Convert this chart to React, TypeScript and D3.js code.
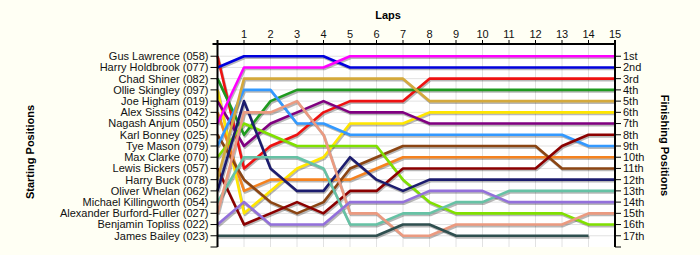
import React from "react";
import * as d3 from "d3";

const drivers = [
  "Gus Lawrence (058)",
  "Harry Holdbrook (077)",
  "Chad Shiner (082)",
  "Ollie Skingley (097)",
  "Joe Higham (019)",
  "Alex Sissins (042)",
  "Nagash Anjum (050)",
  "Karl Bonney (025)",
  "Tye Mason (079)",
  "Max Clarke (070)",
  "Lewis Bickers (057)",
  "Harry Buck (078)",
  "Oliver Whelan (062)",
  "Michael Killingworth (054)",
  "Alexander Burford-Fuller (027)",
  "Benjamin Topliss (022)",
  "James Bailey (023)",
];

const colors = [
  "#ee1111", "#0000dd", "#1f9a1f", "#ffe600", "#800080", "#f5821f", "#ff00ff", "#8b4513",
  "#3399ff", "#80e000", "#8b0000", "#d4a93c", "#1c1c6e", "#66c2a5", "#eb9a80", "#9370db", "#2f4f4f",
];

// position of each driver at laps 0..15
const gusLawrence = [1, 11, 9, 8, 6, 5, 5, 5, 3, 3, 3, 3, 3, 3, 3, 3];
const harryHoldbrook = [2, 1, 1, 1, 1, 2, 2, 2, 2, 2, 2, 2, 2, 2, 2, 2];
const chadShiner = [3, 8, 5, 4, 4, 4, 4, 4, 4, 4, 4, 4, 4, 4, 4, 4];
const ollieSkingley = [4, 15, 13, 11, 10, 7, 7, 7, 6, 6, 6, 6, 6, 6, 6, 6];
const joeHigham = [5, 9, 7, 6, 5, 6, 6, 6, 7, 7, 7, 7, 7, 7, 7, 7];
const alexSissins = [6, 13, 12, 12, 12, 12, 11, 10, 10, 10, 10, 10, 10, 10, 10, 10];
const nagashAnjum = [7, 2, 2, 2, 2, 1, 1, 1, 1, 1, 1, 1, 1, 1, 1, 1];
const karlBonney = [8, 12, 14, 15, 14, 11, 10, 9, 9, 9, 9, 9, 9, 11, 11, 11];
const tyeMason = [9, 4, 4, 7, 7, 8, 8, 8, 8, 8, 8, 8, 8, 8, 9, 9];
const maxClarke = [10, 7, 8, 9, 9, 9, 9, 12, 14, 15, 15, 15, 15, 15, 16, 16];
const lewisBickers = [11, 16, 15, 14, 15, 13, 13, 11, 11, 11, 11, 11, 11, 9, 8, 8];
const harryBuck = [12, 3, 3, 3, 3, 3, 3, 3, 5, 5, 5, 5, 5, 5, 5, 5];
const oliverWhelan = [13, 5, 11, 13, 13, 10, 12, 13, 12, 12, 12, 12, 12, 12, 12, 12];
const michaelKillingworth = [14, 10, 10, 10, 11, 16, 16, 15, 15, 14, 14, 13, 13, 13, 13, 13];
const alexanderBurfordFuller = [15, 6, 6, 5, 8, 15, 15, 17, 17, 16, 16, 16, 16, 16, 15, 15];
const benjaminTopliss = [16, 14, 16, 16, 16, 14, 14, 14, 13, 13, 13, 14, 14, 14, 14, 14];
const jamesBailey = [17, 17, 17, 17, 17, 17, 17, 16, 16, 17, 17, 17, 17, 17, 17];

const positions = [
  gusLawrence, harryHoldbrook, chadShiner, ollieSkingley, joeHigham, alexSissins, nagashAnjum,
  karlBonney, tyeMason, maxClarke, lewisBickers, harryBuck, oliverWhelan, michaelKillingworth,
  alexanderBurfordFuller, benjaminTopliss, jamesBailey,
];

const laps = d3.range(1, 16);
const finishLabels = ["1st", "2nd", "3rd", "4th", "5th", "6th", "7th", "8th", "9th", "10th", "11th", "12th", "13th", "14th", "15th", "16th", "17th"];

export default function App() {
  const W = 700, H = 255;
  const x = d3.scaleLinear().domain([0, 15]).range([217.5, 615]);
  const y = d3.scaleLinear().domain([0, 18]).range([45, 247]);
  const top = 44, bottom = y(18);
  const line = d3.line<number>().x((_, i) => x(i)).y((d) => y(d));
  const font = "'Liberation Sans', Arial, sans-serif";
  const rows = d3.range(1, 18);
  return (
    <svg width={W} height={H} style={{ position: "absolute", left: 0, top: 0, background: "#fffff4" }}>
      <rect x={0} y={0} width={W} height={H} fill="#fffff4" />
      <rect x={x(0)} y={top} width={x(15) - x(0)} height={bottom - top} fill="#ffffff" />
      {laps.map((l) => (
        <line key={"gx" + l} x1={x(l)} x2={x(l)} y1={top} y2={bottom} stroke="#e2e2e2" strokeWidth={1} />
      ))}
      {rows.map((r) => (
        <line key={"gy" + r} x1={x(0)} x2={x(15)} y1={y(r)} y2={y(r)} stroke="#e2e2e2" strokeWidth={1} />
      ))}
      {positions.map((p, i) => (
        <path key={"s" + i} d={line(p) || ""} fill="none" stroke="#000" strokeOpacity={0.28} strokeWidth={2.6}
          transform="translate(1,1.6)" strokeLinejoin="round" />
      ))}
      {positions.map((p, i) => (
        <path key={"l" + i} d={line(p) || ""} fill="none" stroke={colors[i]} strokeWidth={2.6} strokeLinejoin="round" />
      ))}
      {/* axes */}
      <line x1={x(0)} x2={x(0)} y1={top - 4} y2={bottom} stroke="#000" strokeWidth={2} />
      <line x1={x(15)} x2={x(15)} y1={top - 4} y2={bottom} stroke="#000" strokeWidth={2} />
      <line x1={x(0) - 5} x2={x(15) + 1} y1={top} y2={top} stroke="#000" strokeWidth={2} />
      {laps.map((l) => (
        <g key={"tx" + l}>
          <line x1={x(l)} x2={x(l)} y1={top} y2={top - 4} stroke="#000" strokeWidth={1} />
          <text x={x(l)} y={top - 6} textAnchor="middle" fontFamily={font} fontSize={11} fill="#111">{l}</text>
        </g>
      ))}
      {d3.range(1, 19).map((r) => (
        <g key={"ty" + r}>
          <line x1={x(0) - 7} x2={x(0)} y1={y(r)} y2={y(r)} stroke="#000" strokeWidth={1} />
          <line x1={x(15)} x2={x(15) + 6} y1={y(r)} y2={y(r)} stroke="#000" strokeWidth={1} />
        </g>
      ))}
      {drivers.map((d, i) => (
        <text key={"dl" + i} x={x(0) - 9} y={y(i + 1)} dy="0.35em" textAnchor="end" fontFamily={font} fontSize={11} fill="#111">{d}</text>
      ))}
      {finishLabels.map((d, i) => (
        <text key={"fl" + i} x={x(15) + 8} y={y(i + 1)} dy="0.35em" textAnchor="start" fontFamily={font} fontSize={11} fill="#111">{d}</text>
      ))}
      <text x={388} y={19} textAnchor="middle" fontFamily={font} fontSize={11} fontWeight="bold" fill="#000">Laps</text>
      <text transform={`translate(34,152) rotate(-90)`} textAnchor="middle" fontFamily={font} fontSize={11} fontWeight="bold" fill="#000">Starting Positions</text>
      <text transform={`translate(661,${(top + bottom) / 2}) rotate(90)`} textAnchor="middle" fontFamily={font} fontSize={11} fontWeight="bold" fill="#000">Finishing Positions</text>
    </svg>
  );
}
